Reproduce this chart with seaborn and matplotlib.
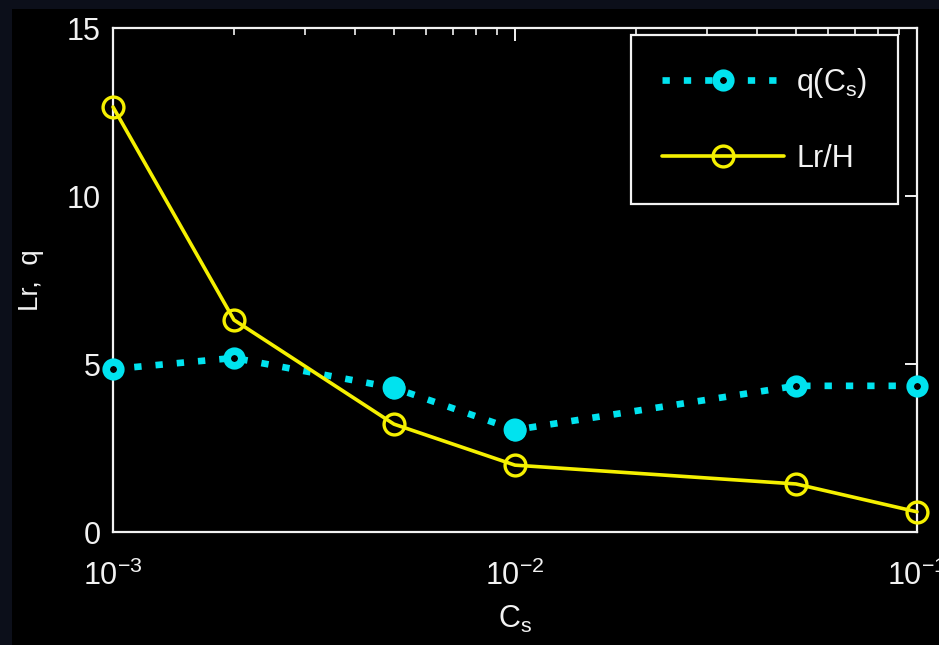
#!/usr/bin/env python3
import matplotlib
matplotlib.use("Agg")
import matplotlib.pyplot as plt
import matplotlib.ticker as mticker
import numpy as np
import pandas as pd
import seaborn as sns

sns.set_style("dark")
plt.rcParams["font.family"] = ["Liberation Sans", "DejaVu Sans"]
plt.rcParams["mathtext.fontset"] = "custom"
plt.rcParams["mathtext.rm"] = "Liberation Sans"

# Values
cs = [0.001, 0.002, 0.005, 0.01, 0.05, 0.1]
lr_h = [12.65, 6.31, 3.21, 1.99, 1.43, 0.60]
q_cs = [4.85, 5.18, 4.29, 3.04, 4.35, 4.35]
# these two q points are drawn as solid dots in the original
q_solid = [False, False, True, True, False, False]

xticks = [1e-3, 1e-2, 1e-1]
xticklabels = [r"$\mathregular{10^{-3}}$", r"$\mathregular{10^{-2}}$",
               r"$\mathregular{10^{-1}}$"]
yticks = [0, 5, 10, 15]

cyan = "#00e3ef"
yellow = "#f5f000"
white = "#f2f2f2"

data = pd.DataFrame({"Cs": cs, "Lr/H": lr_h, "q": q_cs, "solid": q_solid})

fig = plt.figure(figsize=(9.39, 6.45), dpi=100)
fig.patch.set_facecolor("#0c0f1a")
# black slide panel behind the axes
fig.patches.append(plt.Rectangle((12 / 939, 0), 1, 1 - 9 / 645,
                                 transform=fig.transFigure,
                                 facecolor="black", edgecolor="none",
                                 zorder=-5))
ax = fig.add_axes([113 / 939, 1 - 532 / 645, (917 - 113) / 939,
                   (532 - 28) / 645])
ax.set_facecolor("black")

sns.lineplot(
    x="Cs", y="q", data=data, ax=ax, color=cyan,
    linestyle=(0, (1.1, 2.1)), linewidth=4.8, dash_capstyle="butt",
    marker="o", markersize=10.5, markerfacecolor="black",
    markeredgecolor=cyan, markeredgewidth=5.5,
    label="q(C$_\\mathregular{s}$)", clip_on=False, zorder=3,
)
sns.scatterplot(
    x="Cs", y="q", data=data[data["solid"]], ax=ax, color=cyan,
    s=270, edgecolor="none", legend=False, clip_on=False, zorder=4,
)
sns.lineplot(
    x="Cs", y="Lr/H", data=data, ax=ax, color=yellow,
    linewidth=2.6, marker="o", markersize=15, markerfacecolor="none",
    markeredgecolor=yellow, markeredgewidth=2.4,
    label="Lr/H", clip_on=False, zorder=5,
)

ax.set_xscale("log")
ax.set_xlim(1e-3, 1e-1)
ax.set_ylim(0, 15)
ax.set_xticks(xticks)
ax.set_xticklabels(xticklabels)
ax.xaxis.set_minor_locator(mticker.LogLocator(base=10, subs=np.arange(2, 10)))
ax.xaxis.set_minor_formatter(mticker.NullFormatter())
ax.set_yticks(yticks)
ax.set_yticklabels([str(t) for t in yticks])

ax.grid(False)
for sp in ax.spines.values():
    sp.set_visible(True)
    sp.set_color(white)
    sp.set_linewidth(1.6)

ax.tick_params(axis="both", which="both", direction="in", colors=white,
               top=True, right=True, labelsize=22)
ax.tick_params(axis="both", which="major", length=9, width=1.4)
ax.tick_params(axis="x", which="minor", length=5, width=1.2)
ax.tick_params(axis="x", which="major", pad=21)
ax.tick_params(axis="y", which="major", pad=9)
for lab in ax.get_xticklabels() + ax.get_yticklabels():
    lab.set_color(white)

ax.set_xlabel("C$_\\mathregular{s}$", color=white, fontsize=22, labelpad=8)
ax.set_ylabel("Lr,  q", color=white, fontsize=20, labelpad=16)

leg = ax.legend(
    loc="upper right", bbox_to_anchor=(1 - 19 / 804, 1 - 7 / 504),
    borderaxespad=0, fontsize=22,
    handlelength=4.0, handletextpad=0.4, borderpad=1.0, labelspacing=1.45,
    fancybox=False, frameon=True, markerscale=1.0,
)
leg.get_frame().set_facecolor("black")
leg.get_frame().set_edgecolor(white)
leg.get_frame().set_linewidth(1.6)
leg.get_frame().set_alpha(1)
for t in leg.get_texts():
    t.set_color(white)

fig.savefig("out.png", dpi=100, facecolor=fig.get_facecolor())
